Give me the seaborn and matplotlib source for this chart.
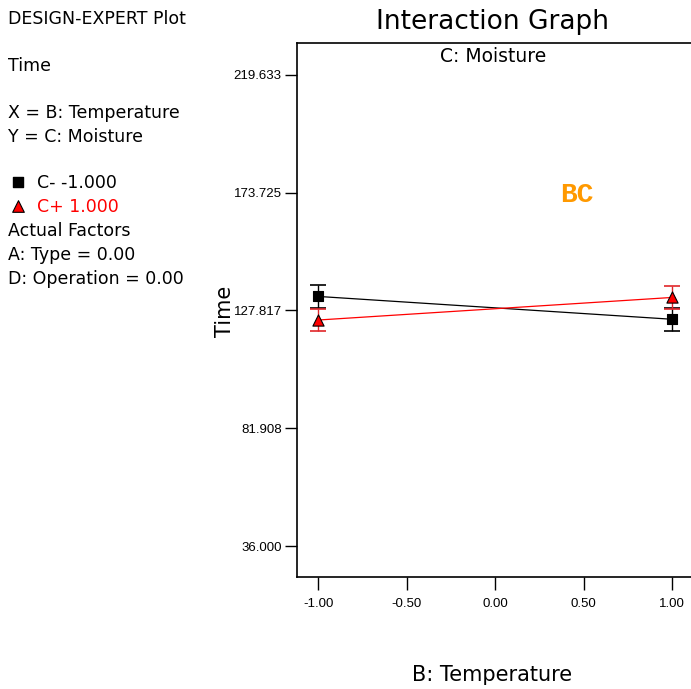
import matplotlib
matplotlib.use("Agg")
import matplotlib.pyplot as plt
import seaborn as sns
import pandas as pd

sns.set_style("white")
plt.rcParams["font.family"] = ["DejaVu Sans"]
plt.rcParams["text.color"] = "black"
plt.rcParams["axes.labelcolor"] = "black"

# Interaction data: Time vs B (Temperature) at two levels of C (Moisture)
temperature = [-1.0, 1.0]
moisture_levels = ["C- -1.000", "C+ 1.000"]
time_c_minus = [133.3, 124.4]
time_c_plus = [124.1, 132.9]
lsd_c_minus = [4.4, 4.4]
lsd_c_plus = [4.4, 4.4]

y_ticks = [36.000, 81.908, 127.817, 173.725, 219.633]
x_ticks = [-1.00, -0.50, 0.00, 0.50, 1.00]

df = pd.DataFrame({
    "B: Temperature": temperature * 2,
    "Time": time_c_minus + time_c_plus,
    "C": [moisture_levels[0]] * 2 + [moisture_levels[1]] * 2,
})

colors = {moisture_levels[0]: "black", moisture_levels[1]: "red"}

fig = plt.figure(figsize=(6.91, 6.89), dpi=100)
ax = fig.add_axes([297 / 691, 1 - 577 / 689, 1 - 297 / 691, (577 - 43) / 689])

sns.lineplot(data=df, x="B: Temperature", y="Time", hue="C", palette=colors,
             linewidth=0.9, legend=False, ax=ax)

# LSD error bars and markers
ax.errorbar(temperature, time_c_minus, yerr=lsd_c_minus, fmt="none",
            ecolor="black", elinewidth=1.0, capsize=6, capthick=1.2, zorder=3)
ax.errorbar(temperature, time_c_plus, yerr=lsd_c_plus, fmt="none",
            ecolor="#e0262a", elinewidth=1.0, capsize=6, capthick=1.2, zorder=3)
sns.scatterplot(x=temperature, y=time_c_minus, marker="s", s=50, color="black",
                edgecolor="black", linewidth=0.8, ax=ax, zorder=4, legend=False)
sns.scatterplot(x=temperature, y=time_c_plus, marker="^", s=65, color="red",
                edgecolor="black", linewidth=0.8, ax=ax, zorder=4, legend=False)

ax.set_xlim(-1.119, 1.107)
ax.set_ylim(23.94, 232.08)
ax.set_xticks(x_ticks)
ax.set_xticklabels([f"{v:.2f}" for v in x_ticks])
ax.set_yticks(y_ticks)
ax.set_yticklabels([f"{v:.3f}" for v in y_ticks])
ax.tick_params(axis="both", which="major", bottom=True, left=True,
               direction="out", length=9, width=1.0, labelsize=9.5,
               color="black", labelcolor="black")
for lab in ax.get_xticklabels() + ax.get_yticklabels():
    lab.set_fontfamily("Liberation Sans")
ax.tick_params(axis="x", pad=6)
ax.tick_params(axis="y", pad=2)

for side in ["left", "bottom", "top"]:
    ax.spines[side].set_visible(True)
    ax.spines[side].set_color("black")
    ax.spines[side].set_linewidth(1.2)
ax.spines["right"].set_visible(False)

ax.set_xlabel("")
ax.set_ylabel("")
fig.text(225 / 691, 1 - 311 / 689, "Time", fontsize=15, rotation=90,
         ha="center", va="center")
fig.text(492 / 691, 1 - 675 / 689, "B: Temperature", fontsize=15,
         ha="center", va="center")

fig.text(493 / 691, 1 - 22 / 689, "Interaction Graph", fontsize=19,
         ha="center", va="center")
fig.text(493 / 691, 1 - 56 / 689, "C: Moisture", fontsize=13.5,
         ha="center", va="center")
fig.text(577 / 691, 1 - 195 / 689, "BC", fontsize=20, color="#ff9900",
         fontweight="bold", family="Liberation Mono", ha="center", va="center")

# Left-hand annotation block
left_x = 8 / 691
lines = [
    (19, "DESIGN-EXPERT Plot"),
    (66, "Time"),
    (113, "X = B: Temperature"),
    (137, "Y = C: Moisture"),
    (231, "Actual Factors"),
    (255, "A: Type = 0.00"),
    (279, "D: Operation = 0.00"),
]
for ypx, txt in lines:
    fig.text(left_x, 1 - ypx / 689, txt, fontsize=12.5, color="black",
             ha="left", va="center")

fig.text(37 / 691, 1 - 183 / 689, moisture_levels[0], fontsize=12.5,
         color="black", ha="left", va="center")
fig.text(37 / 691, 1 - 207 / 689, moisture_levels[1], fontsize=12.5,
         color="red", ha="left", va="center")
leg_ax = fig.add_axes([0, 0, 1, 1], facecolor="none")
leg_ax.set_xlim(0, 691)
leg_ax.set_ylim(689, 0)
leg_ax.axis("off")
leg_ax.scatter([18], [182], marker="s", s=60, color="black")
leg_ax.scatter([18], [206], marker="^", s=70, color="red", edgecolor="black",
               linewidth=0.8)

fig.savefig("out.png", dpi=100)
